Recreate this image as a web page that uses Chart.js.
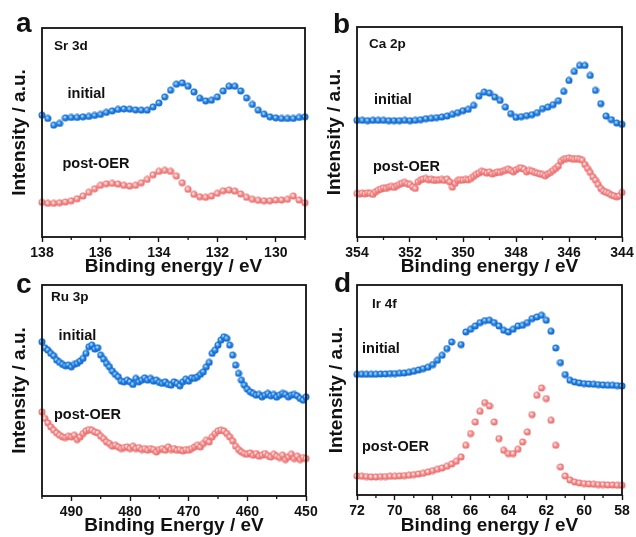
<!DOCTYPE html>
<html>
<head>
<meta charset="utf-8">
<script src="https://cdn.jsdelivr.net/npm/chart.js@4.4.1/dist/chart.umd.min.js"></script>
<style>
  body { margin: 0; background: #fff; }
  #wrap { position: relative; width: 636px; height: 537px; overflow: hidden; }
  canvas { position: absolute; }
  .lbl { position: absolute; white-space: nowrap; line-height: 1em; color: #111;
         font-family: "Liberation Sans", Arial, sans-serif; font-weight: bold; }
</style>
</head>
<body>
<div id="wrap">
  <canvas id="pa" width="318" height="285" style="left:0;top:0"></canvas>
  <canvas id="pb" width="318" height="285" style="left:318px;top:0"></canvas>
  <canvas id="pc" width="318" height="269" style="left:0;top:268px"></canvas>
  <canvas id="pd" width="318" height="269" style="left:318px;top:268px"></canvas>
</div>
<script>
// ── Data (intensity in arbitrary units) ──────────────────────────────────

// (a) Sr 3d, 138 -> 129 eV, 0.2 eV step
const srInitial = [122,118.7,112,113.7,119.3,119.7,119.7,120.3,120.7,121.7,
  122.7,124.7,126.3,127.7,128.3,128,127.3,127,127,130.3,
  134.3,140.3,147,153,154.3,151,145.3,139,136.3,137,
  140.3,146.3,151,151,146.3,139.3,132.7,127,123,120.3,
  119.3,118.7,118.7,118.7,119.7,120.3];
const srPost = [34.7,33.7,33.7,34.3,35,36.3,38.3,41,44.7,48.3,
  51.7,53.3,53.7,53,51.7,51,51.7,54.3,57.7,62.3,
  65.7,66.7,65.7,61,54.3,47.7,42.7,40.3,39.7,41,
  43.7,46.3,47,46,43,39.7,37.7,36.7,36.3,36.3,
  37,37,37.7,41,37,34.3];
const srTicks = [138, 136, 134, 132, 130];
const srMinor = [137, 135, 133, 131, 129];

// (b) Ca 2p, 354 -> 344 eV; initial 0.2 eV step, post-OER 0.1 eV step
const caInitial = [117,117,116.7,117,117,117,116.7,116.7,116.7,117,
  116.7,117,117.7,118.7,119,119.7,120.3,121.3,123,124.7,
  126.7,128,132,141.3,145.3,144.3,140.3,137,130.3,123.7,
  120,120.7,121.7,122.7,124.7,128.7,130.3,132.7,136.7,146,
  157,166,172,172,162,147,133.7,121.3,117.7,114.3,
  113];
const caPost = [43.7,43,44,43.3,44.3,43.7,42.7,45.3,47,48,
  49.3,48.7,50,50.7,49.7,51.3,52.7,53.7,54.7,53.3,
  52.7,50.3,48.7,55.3,57.3,58,58.7,57.3,58,56.7,
  57.3,57,57.7,56.7,58,55.3,50,53.7,56.7,57.3,
  57,57.7,57.3,58.7,60.7,62.7,64,66,65.3,64,
  65.3,63.3,64,65.3,64.7,66,66.7,68,66.7,65.3,
  67.3,68.7,69.3,68,65.3,66.7,66,64.7,64,63.3,
  62.7,61.3,63.3,64.7,66.7,68.7,71.3,76,78,78.7,
  79.3,78.7,78,78.7,78,77,72.7,68.7,64.7,60.3,
  57,52.7,48.7,46,44.7,43.7,42,41.3,40.3,41.3,
  44.7];
const caTicks = [354, 352, 350, 348, 346, 344];
const caMinor = [353, 351, 349, 347, 345];

// (c) Ru 3p, 495 -> 450 eV, 0.5 eV step
const ruInitial = [154,148,145.7,142.4,140,135.7,133.4,131.4,130,130.7,
  129,131.4,132.4,134.7,137.4,142.4,149,150.7,146.7,148,
  140.7,136.7,132.4,129,124.7,121.4,119,114.7,114,115.7,
  114,111.4,117.4,114,115.7,118,115.7,117.4,114.7,115.7,
  113.4,112.4,114,111.4,110.7,114,112.4,110,114,116.7,
  114.7,118,117.4,119,121.4,124,129,133.4,142.4,145.7,
  150.7,155.7,159,157.4,150.7,140.7,130.7,122.4,115.7,110.7,
  106.7,104,102.4,100.7,101.4,99,100.7,102.4,100,101.4,
  98.7,100.7,102.4,101.4,99,100.7,101.4,100,97.4,95.7,
  99];
const ruPost = [84,77.4,73,69,65.7,63,60.7,59,58.4,59.7,
  59,60.7,56.4,59,62.4,65,66.4,65.7,64,63,
  59.7,57.4,54,52.4,49.7,50.7,49,47.4,48.4,49,
  47.4,49.7,47.4,48.4,46.4,47.4,45.7,47.4,46.4,44,
  46.4,47.4,45.7,49,46.4,47.4,45.7,46.4,45,46.4,
  45.7,47.4,49,50.7,49,52.4,55.7,54,59,62.4,
  65,65.7,65,62.4,59,55,49.7,46.4,44,42.4,
  41.7,43,40.7,42.4,39.7,40.7,42.4,40.4,39,41.7,
  39.7,38.4,40.7,36.4,39,41.7,37.4,39.7,36.4,38.4,
  37.4];
const ruTicks = [490, 480, 470, 460, 450];
const ruMinor = [495, 485, 475, 465, 455];

// (d) Ir 4f, 72 -> 58 eV, 0.25 eV step (one initial point missing)
const irInitial = [120.7,120.7,120.7,120.7,120.7,121,121,121.4,121.4,121.7,
  122,122.7,123.7,125,126.4,127.7,130.4,134.7,139.7,146.4,
  153,null,150.4,163,165.7,169,172.4,174.4,174.7,172.4,
  169,164.7,163,165.7,169,169.7,172.4,176.4,178,179.7,
  174.7,163.7,147,132.4,120.4,114.7,113,112,111.4,111,
  110.7,110.4,110,109.7,109.7,109.4,109];
const irPost = [19,18.7,18.4,18,18,18.4,18.4,18.7,18.7,19,
  19.4,19.7,20.4,21,21.7,23,24.4,25.7,27,28.7,
  31,33.7,38,49.7,61.4,73,83.7,92.4,89,73,
  56.4,44.7,41.4,41.4,45.7,53,63,80.4,99.7,107,
  96.4,74.7,49.7,28,19,15,13,12,11.4,11,
  10.7,10.4,10.4,10,10,9.7,9.7];
const irTicks = [72, 70, 68, 66, 64, 62, 60, 58];
const irMinor = [71, 69, 67, 65, 63, 61, 59];

// energy grid of a scan (instrument step)
function scan(from, to, step) {
  const n = Math.round((from - to) / step);
  const out = [];
  for (let i = 0; i <= n; i++) out.push(+(from - i * step).toFixed(2));
  return out;
}
const pairs = (xs, ys) => xs.map((x, i) => ({ x, y: ys[i] }));

// ── Styling helpers ──────────────────────────────────────────────────────

const FONT = "'Liberation Sans', Arial, sans-serif";

// shaded ball marker like the Origin symbols
function ball(light, mid, dark) {
  const c = document.createElement('canvas');
  c.width = c.height = 8;
  const g = c.getContext('2d');
  const grad = g.createRadialGradient(3.1, 3.0, 0.2, 4, 4, 3.8);
  grad.addColorStop(0, light);
  grad.addColorStop(0.45, mid);
  grad.addColorStop(1, dark);
  g.fillStyle = grad;
  g.beginPath();
  g.arc(4, 4, 3.5, 0, Math.PI * 2);
  g.fill();
  return c;
}
const blueBall = ball('#d6ebff', '#2386e8', '#0c5cc0');
const pinkBall = ball('#ffffff', '#f49090', '#e86262');

const framePlugin = {
  id: 'frame',
  afterDraw(chart, args, opts) {
    const { ctx, chartArea: a } = chart;
    const x = chart.scales.x;
    ctx.save();
    ctx.strokeStyle = '#111';
    ctx.lineWidth = 1.8;
    ctx.strokeRect(a.left, a.top, a.right - a.left, a.bottom - a.top);
    ctx.lineWidth = 1.3;
    ctx.beginPath();
    (opts.minor || []).forEach(v => {
      const px = x.getPixelForValue(v);
      ctx.moveTo(px, a.bottom);
      ctx.lineTo(px, a.bottom + 3);
    });
    ctx.stroke();
    ctx.restore();
  }
};

function buildPanel(id, p) {
  const ds = (data, style) => ({
    data, pointStyle: style, pointRadius: 3.5, showLine: false, clip: false
  });
  return new Chart(document.getElementById(id), {
    type: 'scatter',
    data: {
      datasets: [
        ds(pairs(p.xi, p.yi), blueBall),
        ds(pairs(p.xp, p.yp), pinkBall)
      ]
    },
    plugins: [framePlugin],
    options: {
      responsive: false,
      animation: false,
      events: [],
      layout: { padding: { left: 0, top: p.top, right: p.right, bottom: 0 } },
      plugins: {
        legend: { display: false },
        tooltip: { enabled: false },
        frame: { minor: p.minor }
      },
      scales: {
        x: {
          type: 'linear',
          reverse: true,
          min: p.min, max: p.max,
          afterBuildTicks(scale) { scale.ticks = p.ticks.map(v => ({ value: v })); },
          afterFit(scale) {
            scale.height = p.xH;
            scale.paddingLeft = 0; scale.paddingRight = 0;
          },
          border: { display: false },
          grid: { drawOnChartArea: false, drawTicks: true, tickLength: 5, tickColor: '#111', tickWidth: 1.4 },
          ticks: {
            autoSkip: false, maxRotation: 0, padding: p.tickPad, color: '#111',
            font: { family: FONT, size: 14, weight: 'bold' }
          },
          title: {
            display: true, text: p.xTitle, color: '#111',
            font: { family: FONT, size: 19, weight: 'bold' },
            padding: { top: 0, bottom: p.xtPad }
          }
        },
        y: {
          min: 0, max: p.yMax,
          afterFit(scale) {
            scale.width = p.yW;
            scale.paddingTop = 0; scale.paddingBottom = 0;
          },
          border: { display: false },
          grid: { display: false },
          ticks: { display: false },
          title: {
            display: true, text: 'Intensity / a.u.', color: '#111',
            font: { family: FONT, size: 19, weight: 'bold' },
            padding: { top: p.ytPad, bottom: 0 }
          }
        }
      }
    }
  });
}

buildPanel('pa', {
  xi: scan(138, 129, 0.2), yi: srInitial, xp: scan(138, 129, 0.2), yp: srPost,
  min: 129, max: 138, ticks: srTicks, minor: srMinor, yMax: 209.3,
  top: 28, right: 13, yW: 42, xH: 48, tickPad: 2.5, xtPad: 6.8, ytPad: 8.1,
  xTitle: 'Binding energy / eV'
});
buildPanel('pb', {
  xi: scan(354, 344, 0.2), yi: caInitial, xp: scan(354, 344, 0.1), yp: caPost,
  min: 344, max: 354, ticks: caTicks, minor: caMinor, yMax: 210.6,
  top: 27, right: 14, yW: 39, xH: 48, tickPad: 2.5, xtPad: 6.8, ytPad: 5.1,
  xTitle: 'Binding energy / eV'
});
buildPanel('pc', {
  xi: scan(495, 450, 0.5), yi: ruInitial, xp: scan(495, 450, 0.5), yp: ruPost,
  min: 450, max: 495, ticks: ruTicks, minor: ruMinor, yMax: 210.7,
  top: 17, right: 12, yW: 42, xH: 41, tickPad: 3, xtPad: 0, ytPad: 8.6,
  xTitle: 'Binding Energy / eV'
});
buildPanel('pd', {
  xi: scan(72, 58, 0.25), yi: irInitial, xp: scan(72, 58, 0.25), yp: irPost,
  min: 58, max: 72, ticks: irTicks, minor: irMinor, yMax: 210,
  top: 17, right: 14, yW: 39, xH: 42, tickPad: 3, xtPad: 0, ytPad: 7.6,
  xTitle: 'Binding energy / eV'
});

// ── Panel letters and in-plot labels (x, baseline, size) ─────────────────
const labels = [
  ['a', 16, 33, 28], ['Sr 3d', 54, 50, 13.5], ['initial', 67.5, 98, 14.5], ['post-OER', 62.5, 168, 14.5],
  ['b', 333, 34, 28], ['Ca 2p', 369, 48.5, 13.5], ['initial', 374, 104, 14.5], ['post-OER', 373, 171.5, 14.5],
  ['c', 16, 294, 28], ['Ru 3p', 51, 301.5, 13.5], ['initial', 58.5, 340, 14.5], ['post-OER', 54, 419.5, 14.5],
  ['d', 334, 293, 28], ['Ir 4f', 372, 308, 13.5], ['initial', 362, 353, 14.5], ['post-OER', 362, 451, 14.5]
];
const wrap = document.getElementById('wrap');
labels.forEach(([text, x, base, size]) => {
  const d = document.createElement('div');
  d.className = 'lbl';
  d.textContent = text;
  d.style.fontSize = size + 'px';
  d.style.left = x + 'px';
  d.style.top = (base - 0.8465 * size) + 'px';
  wrap.appendChild(d);
});
</script>
</body>
</html>
